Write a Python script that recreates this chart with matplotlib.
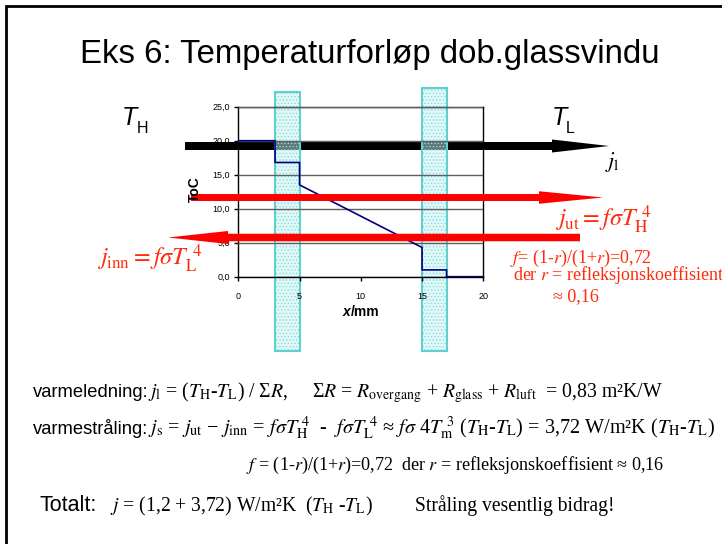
"""
Eks 6: temperaturforløp gjennom et dobbeltglassvindu
"""

import matplotlib
matplotlib.use('Agg')
import matplotlib.pyplot as plt
from matplotlib.patches import FancyArrow, Rectangle

plt.rcParams['mathtext.fontset'] = 'stix'
plt.rcParams['font.family'] = ['Liberation Sans', 'DejaVu Sans']
plt.rcParams['hatch.linewidth'] = 0.6

W, H = 722, 544  # bildestørrelse i piksler

# temperaturprofil (x i mm, T i grader C)
x_mm = [0, 3, 3, 5, 5, 15, 15, 17, 17, 20]
t_c = [20.0, 20.0, 16.8, 16.8, 13.5, 4.3, 1.0, 1.0, 0.0, 0.0]

# glassrutene (venstre kant og tykkelse i mm)
glass_x = [3, 15]
glass_w = 2

x_ticks = [0, 5, 10, 15, 20]
y_ticks = [0, 5, 10, 15, 20, 25]
y_ticklabels = ['0,0', '5,0', '10,0', '15,0', '20,0', '25,0']

RED = '#ff2a0a'
SERIF = ['Liberation Serif', 'DejaVu Serif']

fig = plt.figure(figsize=(W / 100, H / 100), dpi=100)

#bakre tegneflate i piksler (y nedover): svart pil
bak = fig.add_axes([0, 0, 1, 1], zorder=-1)
bak.axis('off')
bak.add_patch(FancyArrow(185, 146, 424, 0, width=8, head_width=13, head_length=57,
                         length_includes_head=True, color='black', lw=0))
bak.set_xlim(0, W)
bak.set_ylim(H, 0)

#diagrammet
ax = fig.add_axes([238.3 / W, 1 - 276.7 / H, 245 / W, 170 / H], zorder=0)
ax.patch.set_visible(False)
ax.plot(x_mm, t_c, color='#000080', lw=1.2, zorder=3)

# glassrutene
tops = [27.1, 27.7]
for gx, top in zip(glass_x, tops):
    ax.add_patch(Rectangle((gx, -10.9), glass_w, top + 10.9, facecolor=(0.78, 0.95, 0.95, 0.5),
                           edgecolor='#86dcdc', hatch='.....', lw=0, zorder=2, clip_on=False))
    ax.add_patch(Rectangle((gx, -10.9), glass_w, top + 10.9, facecolor='none',
                           edgecolor='#5fd0d0', lw=1.5, zorder=2, clip_on=False))

ax.set_xlim(0, 20)
ax.set_ylim(0, 25)
ax.set_xticks(x_ticks)
ax.set_yticks(y_ticks)
ax.set_yticklabels(y_ticklabels)
ax.tick_params(labelsize=6.5, length=3, width=1, pad=3, colors='black')
ax.tick_params(axis='x', pad=8)
ax.grid(axis='y', color='#606060', lw=1)
ax.set_axisbelow(False)
for s in ax.spines.values():
    s.set_linewidth(1)

#fremre tegneflate i piksler: røde piler og tekst
ov = fig.add_axes([0, 0, 1, 1], zorder=1)
ov.axis('off')

# ramme (venstre og topp)
ov.plot([5.5, 5.5, W], [H, 5.5, 5.5], color='black', lw=2, solid_joinstyle='miter')

# røde piler (stråling)
ov.add_patch(FancyArrow(191, 197.5, 412, 0, width=7, head_width=12.5, head_length=64,
                        length_includes_head=True, color='#ff0000', lw=0, zorder=3))
ov.add_patch(FancyArrow(580, 237.5, -412, 0, width=7.5, head_width=13, head_length=60,
                        length_includes_head=True, color='#ff0000', lw=0, zorder=3))

ov.set_xlim(0, W)
ov.set_ylim(H, 0)

#tekst
ov.text(370, 63, 'Eks 6: Temperaturforløp dob.glassvindu', ha='center', va='baseline',
        fontsize=23.7)

ov.text(121.5, 125, 'T', style='italic', fontsize=18, va='baseline')
ov.text(136.5, 133, 'H', fontsize=11.5, va='baseline')
ov.text(551.5, 125, 'T', style='italic', fontsize=18, va='baseline')
ov.text(566, 133, 'L', fontsize=11.5, va='baseline')
ov.text(605, 167, r'$j_\mathrm{l}$', fontsize=16, va='baseline')

# aksetitler
ov.text(195, 189, 'ToC', rotation=90, ha='center', va='center', fontsize=10,
        fontweight='bold', zorder=4)
ov.text(350.5, 316, 'x', style='italic', fontweight='bold', fontsize=10, ha='right',
        va='baseline')
ov.text(350.5, 316, '/mm', fontweight='bold', fontsize=10, ha='left', va='baseline')

# røde etiketter
ov.text(97, 266, r'$j_\mathrm{inn} = f\sigma T_\mathrm{L}^{\ 4}$', color=RED, fontsize=17.5,
        va='baseline', zorder=4)
ov.text(555, 227, r'$j_\mathrm{ut} = f\sigma T_\mathrm{H}^{\ 4}$', color=RED, fontsize=17.5,
        va='baseline', zorder=4)
ov.text(510, 263, r'$f$= (1-$r$)/(1+$r$)=0,72', color=RED, fontsize=13, family=SERIF,
        va='baseline')
ov.text(513, 280, r'der $r$ = refleksjonskoeffisient', color=RED, fontsize=13,
        family=SERIF, va='baseline')
ov.text(553, 301, '≈ 0,16', color=RED, fontsize=13, family=SERIF, va='baseline')

# formler nederst
s1 = (r'$j_\mathrm{l}$ = ($T_\mathrm{H}$-$T_\mathrm{L}$) / Σ$R$,     Σ$R$ = '
      r'$R_\mathrm{overgang}$ + $R_\mathrm{glass}$ + $R_\mathrm{luft}$  = 0,83 m²K/W')
s2 = (r'$j_\mathrm{s}$ = $j_\mathrm{ut}$ − $j_\mathrm{inn}$ = $f\sigma T_\mathrm{H}^{\ 4}$  -  '
      r'$f\sigma T_\mathrm{L}^{\ 4}$ ≈ $f\sigma$ 4$T_\mathrm{m}^{\ 3}$ ($T_\mathrm{H}$-$T_\mathrm{L}$)'
      r' = 3,72 W/m²K ($T_\mathrm{H}$-$T_\mathrm{L}$)')
s3 = r'$f$ = (1-$r$)/(1+$r$)=0,72  der $r$ = refleksjonskoeffisient ≈ 0,16'
s4 = r'$j$ = (1,2 + 3,72) W/m²K  ($T_\mathrm{H}$ -$T_\mathrm{L}$)'

ov.text(33, 397, 'varmeledning:', fontsize=13.2, va='baseline')
ov.text(148, 397, s1, fontsize=14.2, family=SERIF, va='baseline')
ov.text(33, 434, 'varmestråling:', fontsize=13.2, va='baseline')
ov.text(148, 434, s2, fontsize=14.6, family=SERIF, va='baseline')
ov.text(246, 470, s3, fontsize=13.1, family=SERIF, va='baseline')
ov.text(40, 511, 'Totalt:', fontsize=15.5, va='baseline')
ov.text(110, 511, s4, fontsize=14.1, family=SERIF, va='baseline')
ov.text(415, 511, 'Stråling vesentlig bidrag!', fontsize=14.1, family=SERIF, va='baseline')

fig.savefig('out.png', dpi=100)
